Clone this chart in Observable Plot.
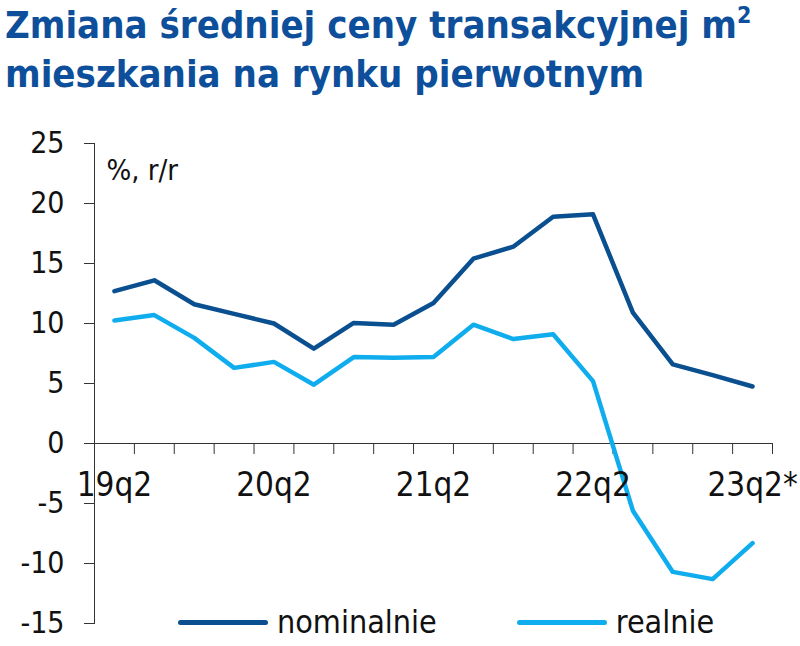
<!DOCTYPE html>
<html>
<head>
<meta charset="utf-8">
<script src="https://cdn.jsdelivr.net/npm/d3@7"></script>
<script src="https://cdn.jsdelivr.net/npm/@observablehq/plot@0.6"></script>
<style>
  html, body { margin: 0; padding: 0; background: #fff; }
  #wrap { position: relative; width: 800px; height: 646px; overflow: hidden; }
  #title { position: absolute; left: 5px; top: 1px; font-family: "DejaVu Sans Condensed", "DejaVu Sans", sans-serif; font-weight: bold; font-size: 38px; line-height: 49px; color: #0d4f9b; white-space: nowrap; }
  #title sup { font-size: 23px; vertical-align: 15px; line-height: 0; }
  #chart { position: absolute; left: 0; top: 115px; }
  #legend { position: absolute; top: 603px; left: 178px; font-family: "DejaVu Sans Condensed", "DejaVu Sans", sans-serif; font-size: 32px; color: #111; display: flex; align-items: center; }
  .sw { display: inline-block; width: 90px; height: 5px; border-radius: 3px; margin-right: 9px; }
  .item { display: flex; align-items: center; }
</style>
</head>
<body>
<div id="wrap">
  <div id="title">Zmiana średniej ceny transakcyjnej m<sup>2</sup><br>mieszkania na rynku pierwotnym</div>
  <div id="chart"></div>
  <div id="legend"></div>
</div>
<script>
const quarters = ["19q2","19q3","19q4","20q1","20q2","20q3","20q4","21q1","21q2","21q3","21q4","22q1","22q2","22q3","22q4","23q1","23q2*"];
const nominal = [12.7,13.6,11.6,10.8,10.0,7.9,10.05,9.9,11.7,15.4,16.4,18.9,19.1,10.9,6.6,5.7,4.75];
const real = [10.25,10.7,8.8,6.3,6.8,4.9,7.2,7.15,7.2,9.9,8.7,9.1,5.2,-5.6,-10.7,-11.3,-8.3];
const seriesNames = ["nominalnie","realnie"];
const seriesColors = ["#0a4f8f","#10adee"];
const yTicks = [-15,-10,-5,0,5,10,15,20,25];
const xTickLabels = ["19q2","20q2","21q2","22q2","23q2*"];
const unitLabel = "%, r/r";

const rows = [];
quarters.forEach((q,i) => {
  rows.push({i, q, v: nominal[i], s: seriesNames[0]});
  rows.push({i, q, v: real[i], s: seriesNames[1]});
});
const boundaries = d3.range(quarters.length + 1).map(k => k - 0.5);
const labelRows = xTickLabels.map(t => ({t, i: quarters.indexOf(t)}));

const font = '"DejaVu Sans Condensed", "DejaVu Sans", sans-serif';

const chart = Plot.plot({
  width: 800,
  height: 531,
  marginTop: 28,
  marginBottom: 23,
  marginLeft: 94,
  marginRight: 28,
  style: {fontFamily: font, background: "#fff", color: "#111"},
  x: {type: "linear", domain: [-0.5, quarters.length - 0.5], axis: null},
  y: {domain: [-15, 25], ticks: yTicks, label: null},
  color: {domain: seriesNames, range: seriesColors},
  marks: [
    Plot.axisY(yTicks, {tickSize: 10, tickPadding: 20, fontSize: 30, label: null, stroke: "#333", color: "#111", tickFormat: d => String(d)}),
    Plot.frame({anchor: "left", stroke: "#333"}),
    Plot.ruleY([0], {stroke: "#333"}),
    Plot.ruleX(boundaries, {y1: 0, y2: 0, insetBottom: -11, stroke: "#333"}),
    Plot.line(rows, {x: "i", y: "v", z: "s", stroke: "s", strokeWidth: 4.5, strokeLinejoin: "round", strokeLinecap: "round"}),
    Plot.text(labelRows, {x: "i", y: 0, text: "t", dy: 42, fontSize: 33, fill: "#111"}),
    Plot.text([unitLabel], {frameAnchor: "top-left", dx: 12, dy: 16, lineAnchor: "top", textAnchor: "start", fontSize: 29, fill: "#111"})
  ]
});
document.getElementById("chart").appendChild(chart);

const legend = document.getElementById("legend");
seriesNames.forEach((name, k) => {
  const item = document.createElement("div");
  item.className = "item";
  if (k > 0) item.style.marginLeft = "80px";
  const sw = document.createElement("span");
  sw.className = "sw";
  sw.style.background = seriesColors[k];
  const t = document.createElement("span");
  t.textContent = name;
  item.appendChild(sw);
  item.appendChild(t);
  legend.appendChild(item);
});
</script>
</body>
</html>
